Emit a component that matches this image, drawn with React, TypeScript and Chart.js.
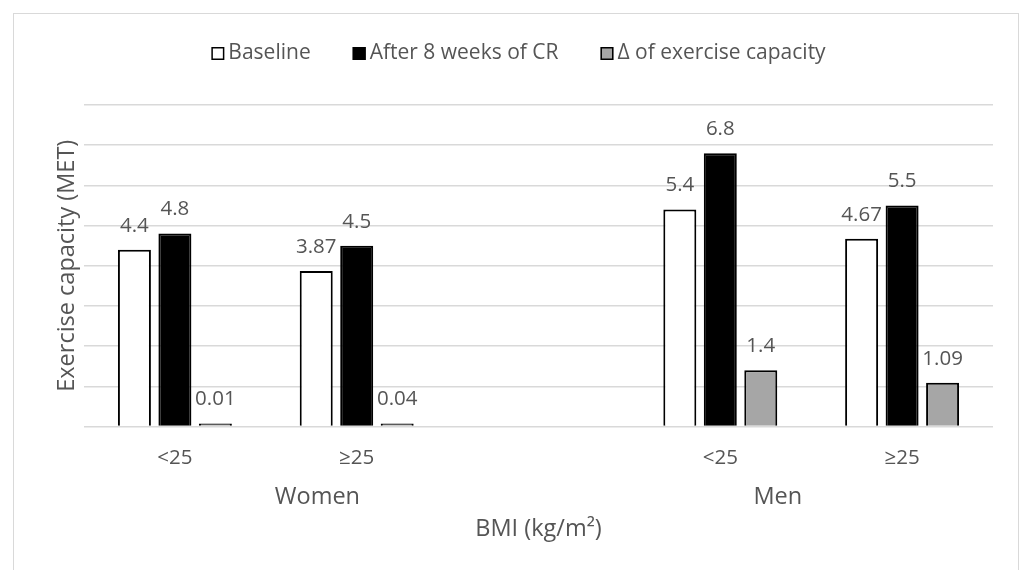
import React, { useEffect, useRef } from "react";
import { Chart, registerables } from "chart.js";

Chart.register(...registerables);

// ---- data ----
const categories = ["<25", "≥25", "", "<25", "≥25"];
const groupLabels = ["Women", "Men"];
const baseline = [4.4, 3.87, null, 5.4, 4.67];
const afterCR = [4.8, 4.5, null, 6.8, 5.5];
const deltaCapacity = [0.01, 0.04, null, 1.4, 1.09];
const seriesNames = ["Baseline", "After 8 weeks of CR", "Δ of exercise capacity"];
const seriesFills = ["#ffffff", "#000000", "#a6a6a6"];
const yTitle = "Exercise capacity (MET)";
const xTitle = "BMI (kg/m²)";
const yMin = 0;
const yMax = 8;
const yStep = 1;

// ---- styling ----
const FONT = "'Open Sans', 'Noto Sans', sans-serif";
const TEXT = "#555555";
const GRID = "#d9d9d9";
// fractional category positions where the outer-level group labels sit
const groupLabelPos = [0.784, 3.316];

const decor = {
  id: "decor",
  beforeDraw(chart: any) {
    const ctx = chart.ctx;
    ctx.save();
    ctx.fillStyle = "#ffffff";
    ctx.fillRect(0, 0, chart.width, chart.height);
    ctx.strokeStyle = GRID;
    ctx.lineWidth = 1;
    ctx.strokeRect(13.5, 13.5, 1005, chart.height + 40);
    ctx.restore();
  },
  afterDraw(chart: any) {
    const ctx = chart.ctx;
    const a = chart.chartArea;
    const xs = chart.scales.x;
    ctx.save();
    ctx.fillStyle = TEXT;

    // data labels
    ctx.font = `20.5px ${FONT}`;
    ctx.textAlign = "center";
    ctx.textBaseline = "middle";
    chart.data.datasets.forEach((ds: any, di: number) => {
      chart.getDatasetMeta(di).data.forEach((el: any, i: number) => {
        const v = ds.data[i];
        if (v == null) return;
        ctx.fillText(String(v), el.x, Math.min(el.y, a.bottom - 1) - 24);
      });
    });

    // category tick labels
    categories.forEach((c, i) => {
      if (!c) return;
      ctx.fillText(c, xs.getPixelForValue(i), a.bottom + 31.5);
    });

    // group labels
    ctx.font = `23.5px ${FONT}`;
    groupLabels.forEach((g, i) => {
      ctx.fillText(g, xs.getPixelForValue(groupLabelPos[i]), a.bottom + 71);
    });

    // x title
    ctx.fillText(xTitle, (a.left + a.right) / 2, a.bottom + 102.5);

    // y title
    ctx.save();
    ctx.translate(67, (a.top + a.bottom) / 2);
    ctx.rotate(-Math.PI / 2);
    ctx.fillText(yTitle, 0, 0);
    ctx.restore();

    // legend
    ctx.font = `21px ${FONT}`;
    ctx.textAlign = "left";
    const box = 13;
    const gap = 4;
    const spacing = 42;
    const widths = seriesNames.map((n) => ctx.measureText(n).width);
    const total =
      widths.reduce((s, w) => s + box + gap + w, 0) + spacing * (seriesNames.length - 1);
    let lx = 518.5 - total / 2;
    const ly = 53.5;
    seriesNames.forEach((n, i) => {
      ctx.fillStyle = seriesFills[i];
      ctx.fillRect(lx, ly - box / 2, box, box);
      ctx.strokeStyle = "#000000";
      ctx.lineWidth = 1.5;
      ctx.strokeRect(lx + 0.75, ly - box / 2 + 0.75, box - 1.5, box - 1.5);
      ctx.fillStyle = TEXT;
      ctx.fillText(n, lx + box + gap, ly);
      lx += box + gap + widths[i] + spacing;
    });

    ctx.restore();
  },
};

export default function App() {
  const ref = useRef<HTMLCanvasElement>(null);
  useEffect(() => {
    const canvas = ref.current!;
    const series = [baseline, afterCR, deltaCapacity];
    const chart = new Chart(canvas, {
      type: "bar",
      data: {
        labels: categories,
        datasets: series.map((d, i) => ({
          label: seriesNames[i],
          data: d,
          backgroundColor: seriesFills[i],
          borderColor: "#000000",
          borderWidth: 2,
          minBarLength: 3,
        })),
      },
      options: {
        responsive: false,
        animation: false,
        events: [],
        layout: { padding: { left: 84, right: 29, top: 105, bottom: 143.5 } },
        datasets: { bar: { categoryPercentage: 0.668, barPercentage: 0.815 } },
        plugins: { legend: { display: false }, tooltip: { enabled: false } },
        scales: {
          x: { display: false },
          y: {
            min: yMin,
            max: yMax,
            ticks: { display: false, stepSize: yStep },
            grid: { color: GRID, lineWidth: 1.5, drawTicks: false },
            border: { display: false },
          },
        },
      } as any,
      plugins: [decor],
    });
    return () => chart.destroy();
  }, []);
  return (
    <canvas
      ref={ref}
      width={1022}
      height={570}
      style={{ position: "fixed", left: 0, top: 0, width: 1022, height: 570 }}
    />
  );
}
